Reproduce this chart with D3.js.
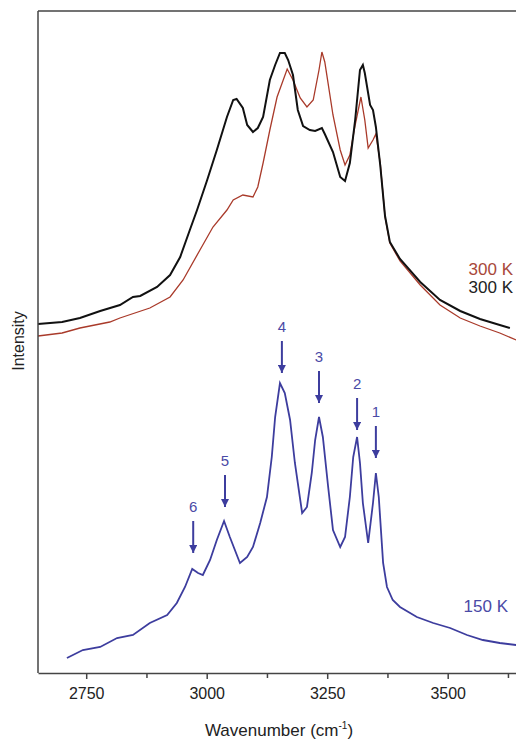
<!DOCTYPE html>
<html>
<head>
<meta charset="utf-8">
<script src="https://cdn.jsdelivr.net/npm/d3@7"></script>
<style>
  body { margin: 0; background: #fff; }
  text { font-family: "Liberation Sans", Arial, sans-serif; }
</style>
</head>
<body>
<div id="chart"></div>
<script>
// spectra (wavenumber in cm-1, intensity in arb. units)
var wnBlack = [2650, 2700, 2737, 2779, 2820, 2847, 2862, 2897, 2924, 2945, 2965, 2980, 3001, 3021, 3042, 3055, 3062, 3075, 3084, 3096, 3106, 3117, 3131, 3142, 3152, 3162, 3169, 3179, 3189, 3200, 3214, 3225, 3239, 3245, 3262, 3277, 3287, 3297, 3308, 3318, 3324, 3328, 3339, 3345, 3351, 3360, 3370, 3380, 3401, 3443, 3484, 3526, 3567, 3608, 3629];
var intBlack = [349, 351, 355, 362, 368, 376, 377, 386, 398, 416, 443, 463, 493, 523, 556, 573, 574, 565, 548, 541, 545, 556, 593, 608, 620, 620, 613, 598, 563, 547, 543, 542, 545, 539, 521, 496, 492, 510, 553, 603, 608, 600, 568, 563, 546, 508, 457, 431, 414, 391, 373, 362, 354, 348, 345];

var wnRed = [2650, 2700, 2737, 2799, 2820, 2882, 2924, 2951, 2986, 3013, 3042, 3055, 3075, 3096, 3106, 3117, 3131, 3146, 3167, 3179, 3194, 3208, 3221, 3233, 3239, 3245, 3262, 3277, 3287, 3297, 3308, 3320, 3328, 3335, 3345, 3351, 3360, 3370, 3380, 3401, 3443, 3484, 3526, 3567, 3608, 3642];
var intRed = [337, 340, 345, 351, 355, 365, 376, 393, 423, 446, 463, 473, 478, 476, 486, 510, 543, 576, 604, 593, 575, 566, 573, 603, 621, 611, 558, 523, 508, 518, 548, 576, 553, 525, 533, 539, 510, 456, 430, 412, 388, 368, 355, 347, 340, 333];

var wnBlue = [2710, 2743, 2779, 2814, 2847, 2882, 2918, 2938, 2955, 2970, 2982, 2992, 3007, 3021, 3036, 3048, 3069, 3084, 3096, 3111, 3125, 3135, 3142, 3152, 3162, 3173, 3183, 3198, 3208, 3218, 3225, 3233, 3241, 3252, 3262, 3277, 3287, 3297, 3304, 3312, 3318, 3324, 3335, 3345, 3351, 3357, 3366, 3374, 3386, 3401, 3436, 3470, 3505, 3540, 3573, 3608, 3642];
var intBlue = [15, 23, 26, 35, 38, 50, 58, 70, 86, 104, 100, 98, 113, 133, 152, 136, 110, 116, 126, 150, 176, 216, 256, 290, 280, 253, 210, 160, 166, 200, 233, 256, 236, 186, 143, 126, 136, 176, 216, 236, 210, 170, 130, 170, 200, 176, 110, 86, 73, 66, 56, 50, 45, 38, 33, 30, 28];

// assigned peaks at 150 K
var peakLabels = ["1", "2", "3", "4", "5", "6"];
var peakWn = [3351, 3312, 3233, 3156, 3038, 2972];
var peakTip = [215, 243, 270, 300, 166, 120];

var xTicks = [2750, 3000, 3250, 3500];
var xMinor = [2875, 3125, 3375, 3625];

var width = 516, height = 741;
var margin = {top: 11, left: 38, bottom: 68};

var svg = d3.select("#chart").append("svg")
    .attr("width", width)
    .attr("height", height);

var x = d3.scaleLinear()
    .domain([2650, 3650])
    .range([margin.left, margin.left + 482]);

var y = d3.scaleLinear()
    .domain([0, 662])
    .range([height - margin.bottom, margin.top]);

var line = d3.line()
    .x(function (d) { return x(d[0]); })
    .y(function (d) { return y(d[1]); });

function pairs(a, b) { return a.map(function (v, i) { return [v, b[i]]; }); }

var blue = "#3d3d9e", red = "#a93a2a", black = "#111";

svg.append("path").datum(pairs(wnRed, intRed))
    .attr("d", line).attr("fill", "none")
    .attr("stroke", red).attr("stroke-width", 1.3);
svg.append("path").datum(pairs(wnBlack, intBlack))
    .attr("d", line).attr("fill", "none")
    .attr("stroke", black).attr("stroke-width", 2);
svg.append("path").datum(pairs(wnBlue, intBlue))
    .attr("d", line).attr("fill", "none")
    .attr("stroke", blue).attr("stroke-width", 1.8);

// frame: left, top, bottom
var axisCol = "#444";
svg.append("line").attr("x1", x(2650)).attr("x2", x(2650))
    .attr("y1", y(662)).attr("y2", y(0))
    .attr("stroke", axisCol).attr("stroke-width", 1.5);
svg.append("line").attr("x1", x(2650)).attr("x2", width)
    .attr("y1", y(662)).attr("y2", y(662))
    .attr("stroke", axisCol).attr("stroke-width", 1.5);

var xAxis = svg.append("g")
    .attr("transform", "translate(0," + y(0) + ")")
    .call(d3.axisBottom(x).tickValues(xTicks).tickFormat(d3.format("d"))
        .tickSize(6).tickSizeOuter(0).tickPadding(9));
xAxis.select(".domain").attr("stroke", axisCol).attr("stroke-width", 1.5);
xAxis.selectAll(".tick line").attr("stroke", axisCol).attr("stroke-width", 1.5);
xAxis.selectAll("text").attr("font-size", 16).attr("fill", "#222")
    .attr("font-family", "Liberation Sans, Arial, sans-serif");

svg.append("g")
    .attr("transform", "translate(0," + y(0) + ")")
    .call(d3.axisBottom(x).tickValues(xMinor).tickSize(5).tickFormat(""))
    .call(function (g) {
        g.select(".domain").remove();
        g.selectAll(".tick line").attr("stroke", axisCol).attr("stroke-width", 1.5);
    });

// axis titles
var xt = svg.append("text")
    .attr("x", 279).attr("y", 736)
    .attr("text-anchor", "middle").attr("font-size", 17).attr("fill", "#222")
    .text("Wavenumber (cm");
xt.append("tspan").attr("dy", -7).attr("font-size", 10).text("-1");
xt.append("tspan").attr("dy", 7).text(")");

svg.append("text")
    .attr("transform", "translate(24,341) rotate(-90)")
    .attr("text-anchor", "middle").attr("font-size", 16).attr("fill", "#222")
    .text("Intensity");

// series labels
svg.append("text").attr("x", 513).attr("y", 275)
    .attr("text-anchor", "end").attr("font-size", 17).attr("fill", "#a8483a")
    .text("300 K");
svg.append("text").attr("x", 513).attr("y", 293)
    .attr("text-anchor", "end").attr("font-size", 17).attr("fill", "#222")
    .text("300 K");
svg.append("text").attr("x", 508).attr("y", 612)
    .attr("text-anchor", "end").attr("font-size", 17).attr("fill", "#4a4aa6")
    .text("150 K");

// peak arrows
svg.append("defs").append("marker")
    .attr("id", "head")
    .attr("viewBox", "0 0 10 10")
    .attr("refX", 10).attr("refY", 5)
    .attr("markerWidth", 9).attr("markerHeight", 8)
    .attr("markerUnits", "userSpaceOnUse")
    .attr("orient", "auto")
    .append("path").attr("d", "M0,0L10,5L0,10Z").attr("fill", blue);

var arrows = svg.selectAll(".peak")
    .data(peakLabels.map(function (l, i) { return {label: l, wn: peakWn[i], tip: peakTip[i]}; }))
    .enter().append("g").attr("class", "peak");

arrows.append("line")
    .attr("x1", function (d) { return x(d.wn); })
    .attr("x2", function (d) { return x(d.wn); })
    .attr("y1", function (d) { return y(d.tip) - 32; })
    .attr("y2", function (d) { return y(d.tip); })
    .attr("stroke", blue).attr("stroke-width", 2)
    .attr("marker-end", "url(#head)");

arrows.append("text")
    .attr("x", function (d) { return x(d.wn); })
    .attr("y", function (d) { return y(d.tip) - 41; })
    .attr("text-anchor", "middle").attr("font-size", 15).attr("fill", "#4a4aa6")
    .text(function (d) { return d.label; });
</script>
</body>
</html>
